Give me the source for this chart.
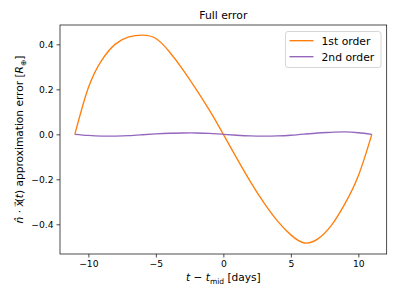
<!DOCTYPE html>
<html>
<head>
<meta charset="utf-8">
<script src="https://cdn.jsdelivr.net/npm/d3@7"></script>
<style>
  body { margin: 0; background: #fff; }
  svg { font-family: "DejaVu Sans", sans-serif; }
</style>
</head>
<body>
<div id="root"></div>
<script>
// values
var tDays = [-11, -10, -9, -8, -7, -6, -5, -4, -3, -2, -1, 0,
             1, 2, 3, 4, 5, 6, 7, 8, 9, 10, 11];
var firstOrder = [0, 0.207, 0.33, 0.401, 0.433, 0.441, 0.426, 0.367, 0.288, 0.199, 0.104, 0,
                  -0.107, -0.21, -0.304, -0.385, -0.447, -0.483, -0.465, -0.405, -0.309, -0.184, 0];
var secondOrder = [0, -0.005, -0.008, -0.008, -0.006, -0.002, 0.002, 0.005, 0.006, 0.006, 0.004, 0,
                   -0.004, -0.007, -0.008, -0.007, -0.004, 0.001, 0.006, 0.009, 0.011, 0.007, 0];
var xTicks = [-10, -5, 0, 5, 10];
var yTicks = [-0.4, -0.2, 0.0, 0.2, 0.4];
var seriesNames = ["1st order", "2nd order"];
var seriesColors = ["#ff7f0e", "#9467bd"];

var width = 399;
var height = 299;
var margin = { left: 60, right: 12.3, top: 25, bottom: 45 };

var svg = d3
  .select("#root")
  .append("svg")
  .attr("width", width)
  .attr("height", height);

var xScale = d3
  .scaleLinear()
  .domain([-12.1, 12.1])
  .range([margin.left, width - margin.right]);
var yScale = d3
  .scaleLinear()
  .domain([-0.532, 0.486])
  .range([height - margin.bottom, margin.top]);

var fmtMinus = (s) => s.replace("-", "\u2212");

// axes
var xAxis = d3
  .axisBottom(xScale)
  .tickValues(xTicks)
  .tickSize(3.5)
  .tickPadding(3)
  .tickFormat((d) => fmtMinus(String(d)));
svg
  .append("g")
  .attr("transform", "translate(0," + (height - margin.bottom) + ")")
  .call(xAxis);

var yAxis = d3
  .axisLeft(yScale)
  .tickValues(yTicks)
  .tickSize(3.5)
  .tickPadding(3)
  .tickFormat((d) => fmtMinus(d3.format(".1f")(d)));
svg
  .append("g")
  .attr("transform", "translate(" + margin.left + ",0)")
  .call(yAxis);

svg.selectAll(".domain").remove();
svg.selectAll(".tick line").attr("stroke", "#000").attr("stroke-width", 0.7);
svg
  .selectAll(".tick text")
  .attr("fill", "#000")
  .style("font-size", "9.2px")
  .style("font-family", "DejaVu Sans");

// lines
var series = [firstOrder, secondOrder];
var line = d3
  .line()
  .x((d, i) => xScale(tDays[i]))
  .y((d) => yScale(d))
  .curve(d3.curveNatural);

series.forEach((s, k) => {
  svg
    .append("path")
    .datum(s)
    .attr("fill", "none")
    .attr("stroke", seriesColors[k])
    .attr("stroke-width", 1.35)
    .attr("d", line);
});

// frame
svg
  .append("rect")
  .attr("x", margin.left)
  .attr("y", margin.top)
  .attr("width", width - margin.left - margin.right)
  .attr("height", height - margin.top - margin.bottom)
  .attr("fill", "none")
  .attr("stroke", "#000")
  .attr("stroke-width", 0.7);

// title
svg
  .append("text")
  .attr("x", (margin.left + width - margin.right) / 2)
  .attr("y", 19)
  .attr("text-anchor", "middle")
  .style("font-size", "10.8px")
  .text("Full error");

// x label
var xl = svg
  .append("text")
  .attr("x", (margin.left + width - margin.right) / 2)
  .attr("y", 281)
  .attr("text-anchor", "middle")
  .style("font-size", "10.6px");
xl.append("tspan").style("font-style", "italic").text("t");
xl.append("tspan").text(" \u2212 ");
xl.append("tspan").style("font-style", "italic").text("t");
xl.append("tspan").attr("dy", 2.5).style("font-size", "7.5px").text("mid");
xl.append("tspan").attr("dy", -2.5).text(" [days]");

// y label
var yl = svg
  .append("text")
  .attr("transform", "translate(23," + (margin.top + (height - margin.top - margin.bottom) / 2) + ") rotate(-90)")
  .attr("text-anchor", "middle")
  .style("font-size", "10.6px");
yl.append("tspan").style("font-style", "italic").text("n\u0302");
yl.append("tspan").text(" \u00b7 ");
yl.append("tspan").style("font-style", "italic").text("x");
yl.append("tspan").attr("dx", -6.5).attr("dy", -6.5).style("font-size", "6px").text("\u2192");
yl.append("tspan").attr("dx", -0.5).attr("dy", 6.5).text("(");
yl.append("tspan").style("font-style", "italic").text("t");
yl.append("tspan").text(") approximation error [");
yl.append("tspan").style("font-style", "italic").text("R");
yl.append("tspan").attr("dy", 2.5).style("font-size", "7.5px").text("\u2295");
yl.append("tspan").attr("dy", -2.5).text("]");

// legend
var legend = svg.append("g").attr("transform", "translate(285.5,31.5)");
legend
  .append("rect")
  .attr("width", 95.5)
  .attr("height", 36)
  .attr("rx", 2.5)
  .attr("fill", "#fff")
  .attr("fill-opacity", 0.8)
  .attr("stroke", "#cccccc")
  .attr("stroke-width", 0.8);

var legendItems = legend
  .selectAll(".legend-item")
  .data(seriesNames)
  .enter()
  .append("g")
  .attr("class", "legend-item")
  .attr("transform", (d, i) => "translate(0," + (9.2 + i * 16) + ")");

legendItems
  .append("line")
  .attr("x1", 4)
  .attr("x2", 28)
  .attr("stroke", (d, i) => seriesColors[i])
  .attr("stroke-width", 1.35);

legendItems
  .append("text")
  .attr("x", 36)
  .attr("y", 4)
  .style("font-size", "10.8px")
  .text((d) => d);
</script>
</body>
</html>
